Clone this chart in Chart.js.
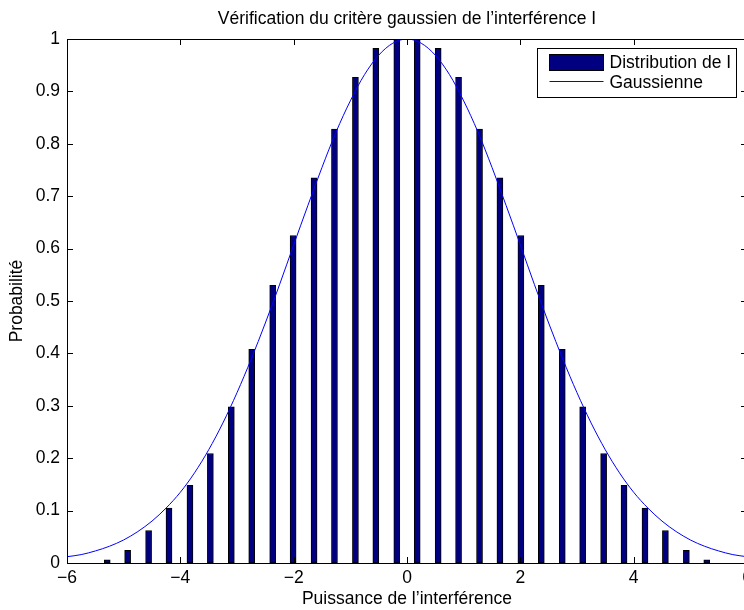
<!DOCTYPE html>
<html>
<head>
<meta charset="utf-8">
<script src="https://cdn.jsdelivr.net/npm/chart.js@4.4.1/dist/chart.umd.min.js"></script>
<style>
  html, body { margin: 0; padding: 0; background: #fff; overflow: hidden; }
  canvas { display: block; }
</style>
</head>
<body>
<canvas id="gauss-chart" width="757" height="610"></canvas>
<script>
// histogram of I (bin centres and normalised heights)
const barCenters = [-5.29, -4.93, -4.56, -4.20, -3.83, -3.47, -3.10, -2.74, -2.37, -2.01,
                    -1.64, -1.28, -0.91, -0.55, -0.18, 0.18, 0.55, 0.91, 1.28, 1.64,
                    2.01, 2.37, 2.74, 3.10, 3.47, 3.83, 4.20, 4.56, 4.93, 5.29]
const barHeights = [0.006, 0.024, 0.062, 0.105, 0.148, 0.209, 0.298, 0.408, 0.530, 0.625,
                    0.735, 0.828, 0.927, 0.982, 1.000, 1.000, 0.982, 0.927, 0.828, 0.735,
                    0.625, 0.530, 0.408, 0.298, 0.209, 0.148, 0.105, 0.062, 0.024, 0.006]
// gaussian curve, points
const curveX = [-6, -5.75, -5.5, -5.25, -5, -4.75, -4.5, -4.25, -4, -3.75, -3.5, -3.25, -3,
                -2.75, -2.5, -2.25, -2, -1.75, -1.5, -1.25, -1, -0.75, -0.5, -0.25, 0,
                0.25, 0.5, 0.75, 1, 1.25, 1.5, 1.75, 2, 2.25, 2.5, 2.75, 3,
                3.25, 3.5, 3.75, 4, 4.25, 4.5, 4.75, 5, 5.25, 5.5, 5.75, 6]
const curveY = [0.012, 0.016, 0.023, 0.032, 0.044, 0.060, 0.080, 0.105, 0.135, 0.172, 0.216, 0.267, 0.325,
                0.389, 0.458, 0.531, 0.607, 0.682, 0.755, 0.823, 0.882, 0.932, 0.969, 0.992, 1.000,
                0.992, 0.969, 0.932, 0.882, 0.823, 0.755, 0.682, 0.607, 0.531, 0.458, 0.389, 0.325,
                0.267, 0.216, 0.172, 0.135, 0.105, 0.080, 0.060, 0.044, 0.032, 0.023, 0.016, 0.012]
const xTicks = [-6, -4, -2, 0, 2, 4, 6]
const yTicks = [0, 0.1, 0.2, 0.3, 0.4, 0.5, 0.6, 0.7, 0.8, 0.9, 1]

const FONT = "'Liberation Sans', Arial, Helvetica, sans-serif"
const FSIZE = 17.5
Chart.defaults.font.family = FONT
Chart.defaults.font.size = FSIZE
Chart.defaults.font.lineHeight = 1.2
Chart.defaults.color = '#000'

let barPoints = []
for (let i = 0; i < barCenters.length; i++) barPoints.push({x: barCenters[i], y: barHeights[i]})
let curvePoints = []
for (let i = 0; i < curveX.length; i++) curvePoints.push({x: curveX[i], y: curveY[i]})

// matlab style box with inward ticks on all four sides
const axesBox = {
    id: 'axesBox',
    afterDatasetsDraw(chart) {
        const {ctx, chartArea: ca, scales} = chart
        ctx.save()
        ctx.strokeStyle = '#000'
        ctx.lineWidth = 1
        ctx.strokeRect(Math.round(ca.left) + 0.5, Math.round(ca.top) + 0.5,
                       Math.round(ca.right - ca.left), Math.round(ca.bottom - ca.top))
        ctx.beginPath()
        xTicks.forEach(v => {
            const px = Math.round(scales.x.getPixelForValue(v)) + 0.5
            ctx.moveTo(px, ca.bottom); ctx.lineTo(px, ca.bottom - 6)
            ctx.moveTo(px, ca.top); ctx.lineTo(px, ca.top + 6)
        })
        yTicks.forEach(v => {
            const py = Math.round(scales.y.getPixelForValue(v)) + 0.5
            ctx.moveTo(ca.left, py); ctx.lineTo(ca.left + 6, py)
            ctx.moveTo(ca.right, py); ctx.lineTo(ca.right - 6, py)
        })
        ctx.stroke()
        ctx.restore()
    }
}

// legend box in the upper right corner of the axes
const boxLegend = {
    id: 'boxLegend',
    afterDraw(chart) {
        const {ctx, chartArea: ca} = chart
        const ds = chart.data.datasets
        const w = 199, h = 49
        const left = Math.round(ca.right - 11 - w) + 0.5
        const top = Math.round(ca.top + 9) + 0.5
        ctx.save()
        ctx.fillStyle = '#fff'
        ctx.fillRect(left, top, w, h)
        ctx.strokeStyle = '#000'
        ctx.lineWidth = 1
        ctx.strokeRect(left, top, w, h)
        ctx.font = FSIZE + 'px ' + FONT
        ctx.textBaseline = 'middle'
        // bars entry
        const r1 = top + 14
        ctx.fillStyle = ds[0].backgroundColor
        ctx.fillRect(left + 12, r1 - 8, 54, 16)
        ctx.strokeStyle = '#000'
        ctx.strokeRect(left + 12, r1 - 8, 54, 16)
        ctx.fillStyle = '#000'
        ctx.fillText(ds[0].label, left + 72, r1 + 1)
        // line entry
        const r2 = top + 33
        ctx.strokeStyle = ds[1].borderColor
        ctx.beginPath()
        ctx.moveTo(left + 12, r2); ctx.lineTo(left + 66, r2)
        ctx.stroke()
        ctx.fillText(ds[1].label, left + 72, r2 + 2)
        ctx.restore()
    }
}

const config = {
    type: 'bar',
    data: {
        datasets: [{
            label: 'Distribution de I',
            type: 'bar',
            data: barPoints,
            backgroundColor: '#000080',
            borderColor: '#000',
            borderWidth: 1,
            borderSkipped: false,
            barThickness: 6,
            grouped: false,
            order: 1
        }, {
            label: 'Gaussienne',
            type: 'line',
            data: curvePoints,
            borderColor: '#0000ff',
            borderWidth: 1,
            pointRadius: 0,
            cubicInterpolationMode: 'monotone',
            fill: false,
            order: 0
        }]
    },
    options: {
        responsive: false,
        animation: false,
        events: [],
        layout: {padding: {left: 0, right: 10, top: 0, bottom: 0}},
        plugins: {
            legend: {display: false},
            tooltip: {enabled: false},
            title: {
                display: true,
                fullSize: false,
                text: 'Vérification du critère gaussien de l\u2019interférence I',
                font: {size: FSIZE, weight: 'normal'},
                color: '#000',
                padding: {top: 9, bottom: 9}
            }
        },
        scales: {
            x: {
                type: 'linear',
                min: -6, max: 6,
                offset: false,
                grid: {display: false, offset: false, drawTicks: false},
                border: {display: false},
                afterBuildTicks: s => { s.ticks = xTicks.map(v => ({value: v})) },
                afterFit: s => { s.height = 47 },
                ticks: {
                    padding: 5,
                    maxRotation: 0,
                    callback: v => String(v).replace('-', '\u2212')
                },
                title: {display: true, text: 'Puissance de l\u2019interférence', padding: {top: 0, bottom: 0}}
            },
            y: {
                min: 0, max: 1,
                grid: {display: false, drawTicks: false},
                border: {display: false},
                afterBuildTicks: s => { s.ticks = yTicks.map(v => ({value: v})) },
                afterFit: s => { s.width = 67 },
                ticks: {
                    padding: 7,
                    callback: v => (v === 0 || v === 1) ? String(v) : v.toFixed(1)
                },
                title: {display: true, text: 'Probabilité', padding: {top: 7, bottom: 0}}
            }
        }
    },
    plugins: [axesBox, boxLegend]
}
new Chart(document.getElementById('gauss-chart'), config)
</script>
</body>
</html>
